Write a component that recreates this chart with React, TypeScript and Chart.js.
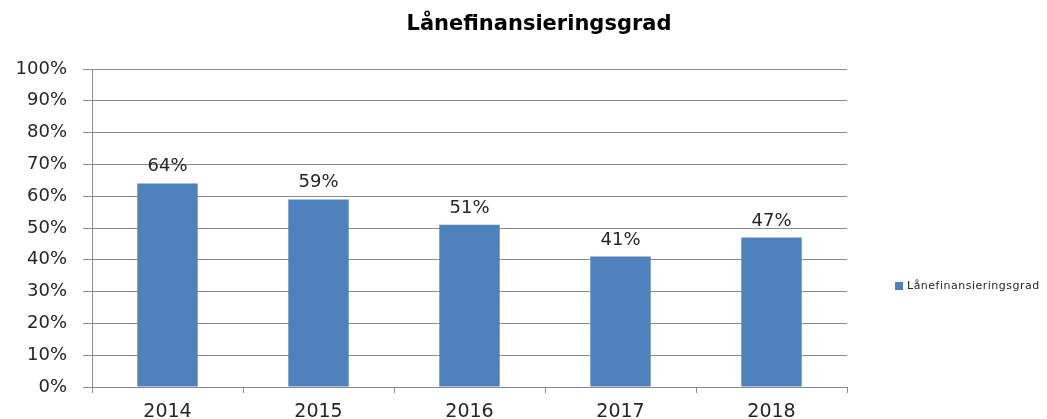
import { useEffect, useRef } from 'react';
import { Chart, registerables } from 'chart.js';
Chart.register(...registerables);

const chartTitle = 'Lånefinansieringsgrad';
const seriesName = 'Lånefinansieringsgrad';
const categories = ['2014', '2015', '2016', '2017', '2018'];
const values = [64, 59, 51, 41, 47];
const yMin = 0;
const yMax = 100;
const yStep = 10;

const BAR = '#4F81BD';
const GRID = '#8C8C8C';
const TEXT = '#262626';

const valueLabels = {
  id: 'valueLabels',
  afterDatasetsDraw(chart: any) {
    const ctx = chart.ctx;
    const meta = chart.getDatasetMeta(0);
    ctx.save();
    ctx.font = '18px "DejaVu Sans"';
    ctx.fillStyle = TEXT;
    ctx.textAlign = 'center';
    ctx.textBaseline = 'alphabetic';
    meta.data.forEach((bar: any, i: number) => {
      ctx.fillText(values[i] + '%', bar.x, bar.y - 12);
    });
    ctx.restore();
  },
};

const titleAndLegend = {
  id: 'titleAndLegend',
  afterDraw(chart: any) {
    const ctx = chart.ctx;
    ctx.save();
    // title
    ctx.font = 'bold 21px "DejaVu Sans"';
    ctx.fillStyle = '#000';
    ctx.textAlign = 'center';
    ctx.textBaseline = 'alphabetic';
    ctx.fillText(chartTitle, 539, 30);
    // legend
    const x = chart.chartArea.right + 48;
    const y = chart.chartArea.top + 217;
    ctx.fillStyle = BAR;
    ctx.fillRect(x, y - 4, 8, 8);
    ctx.font = '11px "DejaVu Sans"';
    (ctx as any).letterSpacing = '0.5px';
    ctx.fillStyle = TEXT;
    ctx.textAlign = 'left';
    ctx.textBaseline = 'middle';
    ctx.fillText(seriesName, x + 12, y);
    ctx.restore();
  },
};

export default function App() {
  const ref = useRef<HTMLCanvasElement>(null);
  useEffect(() => {
    document.body.style.margin = '0';
    const chart = new Chart(ref.current!, {
      type: 'bar',
      data: {
        labels: categories,
        datasets: [
          {
            label: seriesName,
            data: values,
            backgroundColor: BAR,
            borderWidth: 0,
            barPercentage: 0.4,
            categoryPercentage: 1,
          },
        ],
      },
      options: {
        responsive: false,
        animation: false,
        layout: { padding: { left: 0, right: 200, top: 69, bottom: 0 } },
        plugins: {
          legend: { display: false },
          tooltip: { enabled: false },
          title: { display: false },
        },
        scales: {
          x: {
            offset: true,
            grid: {
              offset: true,
              drawOnChartArea: false,
              drawTicks: true,
              tickLength: 6,
              color: GRID,
            },
            border: { display: true, color: GRID },
            ticks: {
              color: TEXT,
              font: { family: 'DejaVu Sans', size: 19 },
              padding: 8,
            },
            afterFit(scale: any) {
              scale.height = 32;
            },
          },
          y: {
            min: yMin,
            max: yMax,
            ticks: {
              stepSize: yStep,
              color: TEXT,
              font: { family: 'DejaVu Sans', size: 18 },
              padding: 16,
              callback: (v: any) => v + '%',
            },
            grid: { color: GRID, tickLength: 9, drawTicks: true },
            border: { display: true, color: GRID },
            afterFit(scale: any) {
              scale.width = 92;
            },
          },
        },
      },
      plugins: [valueLabels, titleAndLegend],
    });
    return () => chart.destroy();
  }, []);
  return (
    <div style={{ width: 1047, height: 419 }}>
      <canvas ref={ref} width={1047} height={419} />
    </div>
  );
}
